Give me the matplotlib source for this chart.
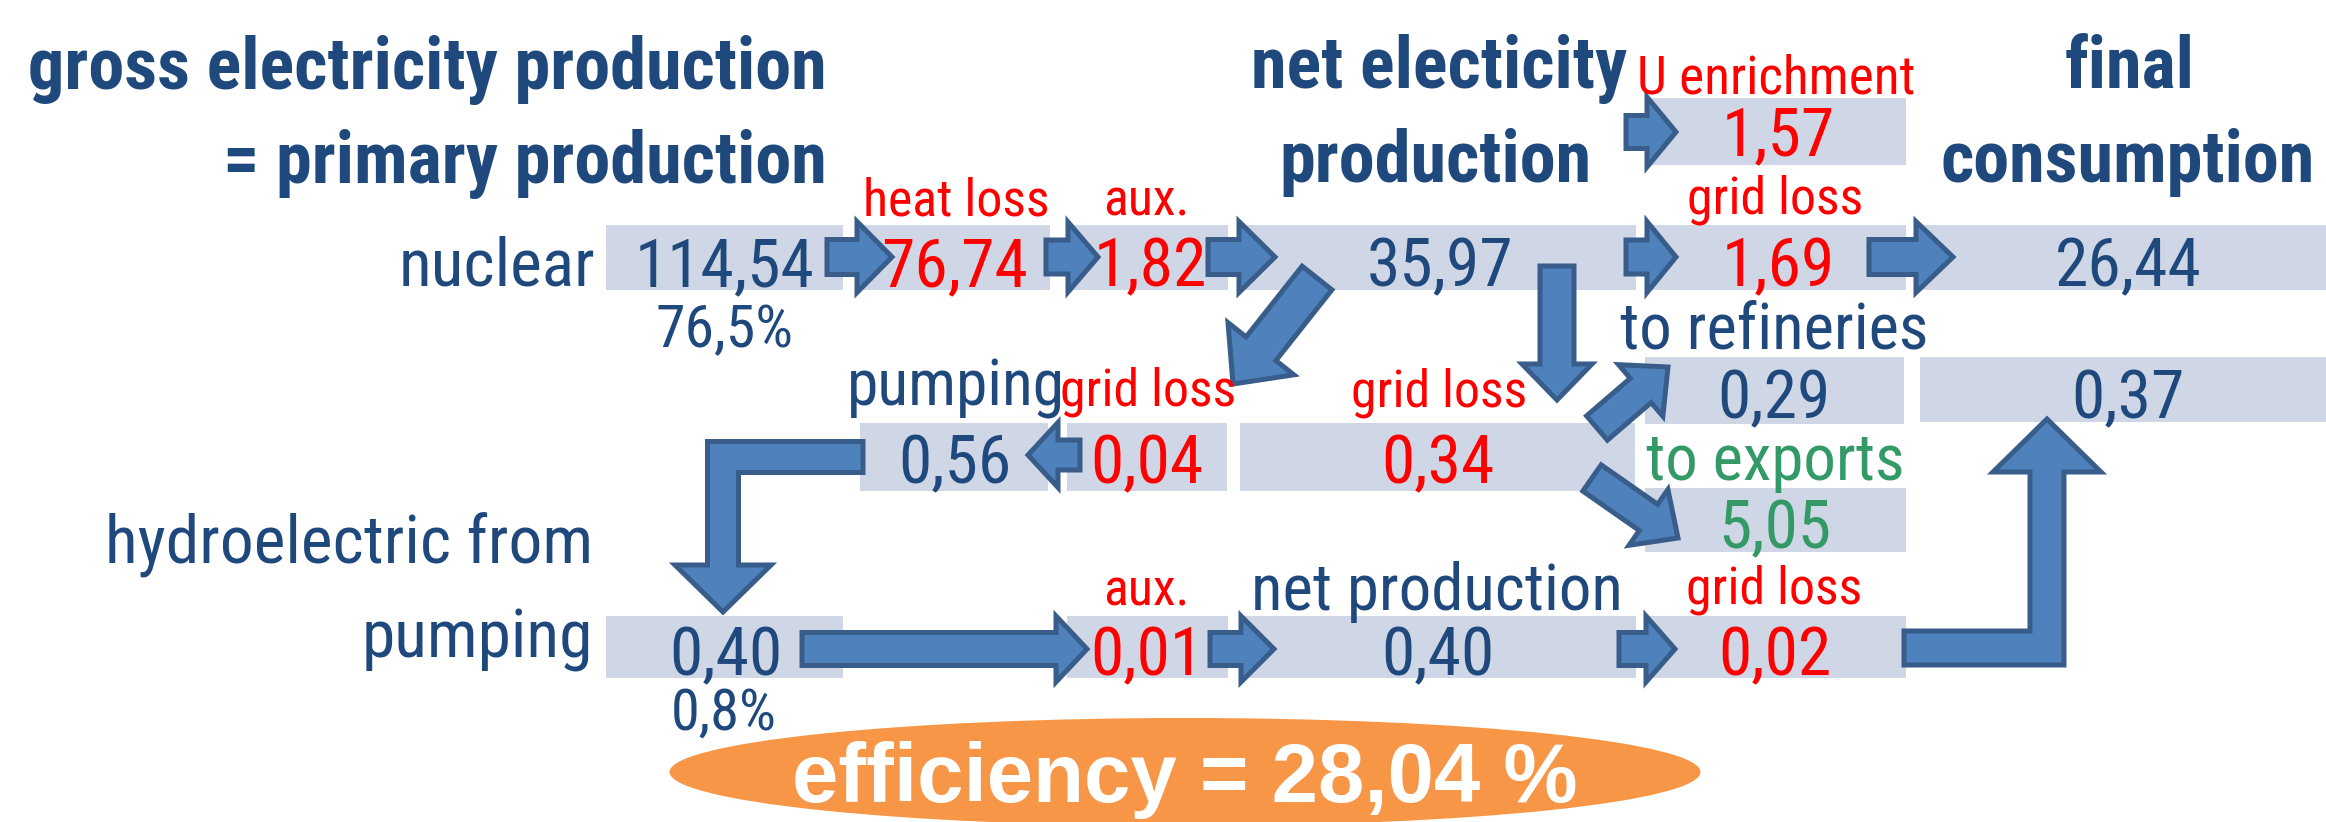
import numpy as np
import matplotlib
matplotlib.use("Agg")
import matplotlib.pyplot as plt
from matplotlib.patches import Polygon, Rectangle, Ellipse
from matplotlib import font_manager
from matplotlib.font_manager import FontProperties

# ---------------- data ----------------
nuclear_values = [114.54, 76.74, 1.82, 35.97, 1.69, 26.44]
nuclear_share = "76,5%"
u_enrichment = 1.57
to_refineries = 0.29
final_other = 0.37
pumping_values = [0.56, 0.04, 0.34]
exports = 5.05
hydro_values = [0.40, 0.01, 0.40, 0.02]
hydro_share = "0,8%"
efficiency = 28.04

titles = ["gross electricity production", "= primary production",
          "net electicity", "production", "final", "consumption"]
loss_labels_top = ["heat loss", "aux.", "grid loss", "U enrichment"]
mid_labels = ["pumping", "grid loss", "grid loss", "to refineries", "to exports"]
hydro_labels = ["hydroelectric from", "pumping", "aux.", "net production", "grid loss"]

# ---------------- style ----------------
BLUE = "#1F497D"
RED = "#FF0000"
GREEN = "#339966"
BOX = "#CFD7E6"
AFILL = "#4F81BD"
AEDGE = "#385D8A"
ORANGE = "#F79646"

WMAP = {"normal": 400, "regular": 400, "book": 400, "medium": 500,
        "bold": 700, "semibold": 600, "demibold": 600, "light": 300}
COND = {"condensed", "semi-condensed", "extra-condensed", "ultra-condensed"}


def _w(f):
    w = f.weight
    if isinstance(w, str):
        w = WMAP.get(w.lower(), 400)
    return int(w)


def pick_font(bold):
    pref = ["Liberation Sans Narrow", "Arial Narrow", "Roboto Condensed",
            "Noto Sans Condensed", "Noto Sans", "Open Sans Condensed",
            "Open Sans", "Roboto", "DejaVu Sans Condensed", "DejaVu Sans"]
    target = 700 if bold else 400
    for fam in pref:
        for f in font_manager.fontManager.ttflist:
            if f.name != fam or f.style != "normal":
                continue
            cond = (str(f.stretch) in COND or "Narrow" in fam or "Condensed" in fam)
            if cond and _w(f) == target:
                return FontProperties(fname=f.fname)
    return FontProperties(family="Liberation Sans", weight="bold" if bold else "normal")


FP_REG = pick_font(False)
FP_BOLD = pick_font(True)
FP_WIDE_BOLD = FontProperties(family="Liberation Sans", weight="bold")


def fmt(v):
    return f"{v:.2f}".replace(".", ",")


fig = plt.figure(figsize=(23.26, 8.22), dpi=100)
ax = fig.add_axes([0, 0, 1, 1])
ax.set_xlim(0, 2326)
ax.set_ylim(822, 0)
ax.axis("off")
renderer = fig.canvas.get_renderer()


def text_width(s, fp, size):
    p = fp.copy()
    p.set_size(size)
    t = ax.text(0, 0, s, fontproperties=p)
    w = t.get_window_extent(renderer).width
    t.remove()
    return w


# width-calibration so the narrow look of the original is kept
K_REG = min(1.0, 180.0 / text_width("114,54", FP_REG, 52))
K_BOLD = min(1.0, 800.0 / text_width(titles[0], FP_BOLD, 53))


def box(x0, x1, y0, y1):
    ax.add_patch(Rectangle((x0, y0), x1 - x0, y1 - y0, fc=BOX, ec="none", zorder=1))


def txt(x, y, s, color=BLUE, size=52, ha="center", bold=False, fp=None, z=5):
    if fp is None:
        base = FP_BOLD if bold else FP_REG
        k = K_BOLD if bold else K_REG
    else:
        base, k = fp, 1.0
    p = base.copy()
    p.set_size(size * k)
    ax.text(x, y, s, ha=ha, va="baseline", color=color, fontproperties=p, zorder=z)


def normal(v):
    v = np.asarray(v, float)
    return np.array([-v[1], v[0]]) / np.hypot(*v)


def block_arrow(pts, w, hw, hl):
    pts = np.array(pts, float)
    tip = pts[-1]
    d = tip - pts[-2]
    d = d / np.hypot(*d)
    base = tip - d * hl
    path = list(pts[:-1]) + [base]
    left, right = [], []
    for i, p in enumerate(path):
        if i == 0:
            n = normal(path[1] - path[0])
        elif i == len(path) - 1:
            n = normal(path[-1] - path[-2])
        else:
            n1 = normal(path[i] - path[i - 1])
            n2 = normal(path[i + 1] - path[i])
            m = n1 + n2
            m = m / np.hypot(*m)
            n = m / np.dot(m, n1)
        left.append(p + n * w)
        right.append(p - n * w)
    nb = normal(d)
    poly = left + [base + nb * hw, tip, base - nb * hw] + right[::-1]
    ax.add_patch(Polygon(poly, closed=True, fc=AFILL, ec=AEDGE, lw=3.6,
                         joinstyle="miter", zorder=3))


# ---------------- boxes ----------------
rowA = (225, 290)
for x0, x1 in [(606, 843), (857, 1050), (1068, 1228), (1244, 1636), (1649, 1906), (1918, 2330)]:
    box(x0, x1, *rowA)
box(1649, 1906, 98, 165)            # U enrichment
box(1645, 1904, 357, 424)           # to refineries
box(1920, 2330, 357, 422)           # final other
for x0, x1 in [(860, 1048), (1067, 1227), (1240, 1635)]:
    box(x0, x1, 423, 491)           # pumping row
box(1645, 1906, 488, 552)           # exports
for x0, x1 in [(606, 843), (1067, 1228), (1241, 1636), (1646, 1906)]:
    box(x0, x1, 616, 678)           # hydro row

# ---------------- arrows ----------------
yA = 257
block_arrow([(827, yA), (892, yA)], 17.5, 35.5, 35)
block_arrow([(1046, yA), (1098, yA)], 17, 35, 30)
block_arrow([(1208, yA), (1275, yA)], 17.5, 35.5, 36)
block_arrow([(1626, yA), (1676, yA)], 17, 35.5, 29)
block_arrow([(1869, yA), (1953, yA)], 17.5, 35.5, 37)
block_arrow([(1626, 132), (1676, 132)], 16.5, 35, 29)
block_arrow([(1080, 455), (1028, 455)], 15, 32.5, 30)
block_arrow([(1317, 278), (1233, 384)], 19, 42, 45)
block_arrow([(1557, 266), (1557, 400)], 17, 35, 36)
block_arrow([(1597, 428), (1668, 367)], 16, 34, 36)
block_arrow([(1592, 478), (1678, 538)], 16, 34, 36)
yC = 649
block_arrow([(802, yC), (1087, yC)], 16.5, 33, 31)
block_arrow([(1210, yC), (1274, yC)], 16.5, 33, 33)
block_arrow([(1619, yC), (1675, yC)], 16.5, 33, 29)
block_arrow([(863, 457), (723, 457), (723, 612)], 15.5, 48, 47)
block_arrow([(1904, 648), (2047, 648), (2047, 419)], 17, 54, 53)

# ---------------- titles ----------------
txt(827, 89, titles[0], ha="right", bold=True, size=53)
txt(827, 183, titles[1], ha="right", bold=True, size=53)
txt(1439, 88, titles[2], bold=True, size=53)
txt(1435, 182, titles[3], bold=True, size=53)
txt(2130, 88, titles[4], bold=True, size=53)
txt(2128, 182, titles[5], bold=True, size=53)

# ---------------- nuclear row ----------------
txt(595, 285, "nuclear", ha="right")
xs_A = [725, 955, 1150, 1440, 1778, 2128]
cols_A = [BLUE, RED, RED, BLUE, RED, BLUE]
for x, v, c in zip(xs_A, nuclear_values, cols_A):
    txt(x, 286, fmt(v), color=c)
txt(725, 347, nuclear_share, size=46)
txt(956, 215, loss_labels_top[0], color=RED, size=40)
txt(1146, 215, loss_labels_top[1], color=RED, size=40)
txt(1775, 213, loss_labels_top[2], color=RED, size=40)
txt(1776, 93, loss_labels_top[3], color=RED, size=41)
txt(1778, 155, fmt(u_enrichment), color=RED)

# ---------------- middle rows ----------------
txt(1774, 348, mid_labels[3], size=50)
txt(1774, 418, fmt(to_refineries))
txt(2128, 418, fmt(final_other))
txt(956, 405, mid_labels[0], size=49)
txt(1148, 405, mid_labels[1], color=RED, size=40)
txt(1439, 406, mid_labels[2], color=RED, size=40)
for x, v, c in zip([955, 1147, 1438], pumping_values, [BLUE, RED, RED]):
    txt(x, 483, fmt(v), color=c)
txt(1775, 480, mid_labels[4], color=GREEN, size=50)
txt(1775, 548, fmt(exports), color=GREEN)

# ---------------- hydro row ----------------
txt(593, 563, hydro_labels[0], ha="right")
txt(593, 657, hydro_labels[1], ha="right")
txt(1146, 605, hydro_labels[2], color=RED, size=40)
txt(1437, 610, hydro_labels[3], size=50)
txt(1774, 603, hydro_labels[4], color=RED, size=40)
for x, v, c in zip([726, 1147, 1438, 1775], hydro_values, [BLUE, RED, BLUE, RED]):
    txt(x, 675, fmt(v), color=c)
txt(724, 730, hydro_share, size=45)

# ---------------- efficiency ----------------
ax.add_patch(Ellipse((1185, 772), 1031, 108, fc=ORANGE, ec="none", zorder=4))
txt(1185, 802, f"efficiency = {fmt(efficiency)} %", color="white", size=60,
    fp=FP_WIDE_BOLD, z=6)

fig.savefig("out.png", dpi=100)
